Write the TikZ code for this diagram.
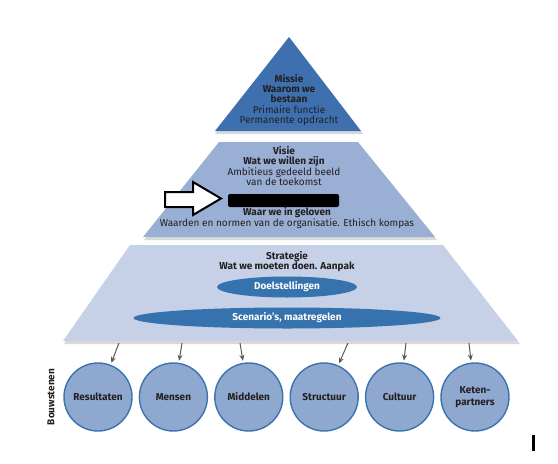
\documentclass[tikz,border=0pt]{standalone}
\usepackage{fontspec}
\setmainfont{Fira Sans}
\definecolor{pyrTop}{HTML}{3E70AF}
\definecolor{pyrMid}{HTML}{9AAFD4}
\definecolor{pyrLow}{HTML}{C6D1E7}
\definecolor{ovalBlue}{HTML}{3572AE}
\definecolor{circFill}{HTML}{8EA8D0}
\definecolor{circDraw}{HTML}{3B73AF}
\definecolor{inkDark}{HTML}{231F20}
\usetikzlibrary{arrows.meta, positioning, shapes.geometric}

\begin{document}
\begin{tikzpicture}[
    x=1pt, y=-1pt,
    node distance=6pt,
    layer/.style={line join=round},
    shade/.style={fill=black!15},
    txt/.style={
      align=center,
      text=inkDark,
      font=\fontsize{10}{10.3}\selectfont,
      inner sep=0pt,
    },
    oval/.style={
      ellipse,
      fill=ovalBlue,
      text=white,
      font=\fontsize{10}{10}\selectfont\bfseries,
      inner sep=0pt,
    },
    block/.style={
      circle,
      draw=circDraw,
      fill=circFill,
      line width=1.4pt,
      minimum size=68pt,
      inner sep=0pt,
      align=center,
      text=inkDark,
      font=\fontsize{10}{12}\selectfont\bfseries,
    },
    arr/.style={-{Stealth[length=6pt, width=5pt]}, black!65, line width=1pt, shorten >=2pt},
  ]
    \useasboundingbox (0,0) rectangle (558,464);

    % shadows
    \fill[shade] (290,38) -- (363,134) -- (215,134) -- cycle;
    \fill[shade] (220,144) -- (359,144) -- (437,240) -- (144,240) -- cycle;
    \fill[shade] (131,247) -- (444,247) -- (520,344) -- (64,344) -- cycle;

    % missie
    \fill[layer, pyrTop] (289,37) -- (361,131) -- (215,131) -- cycle;
    \node[txt] (missie) at (289,100)
      {\textbf{Missie}\\\textbf{Waarom we}\\\textbf{bestaan}\\Primaire functie\\Permanente opdracht};

    % visie
    \fill[layer, pyrMid] (219,142) -- (358,142) -- (435,237) -- (143,237) -- cycle;
    \node[txt] (visie) at (284,166)
      {\textbf{Visie}\\\textbf{Wat we willen zijn}\\Ambitieus gedeeld beeld\\van de toekomst};
    \node[txt] (waarden) at (287,218)
      {\textbf{Waar we in geloven}\\Waarden en normen van de organisatie. Ethisch kompas};

    % pointer + mask
    \draw[line width=2pt, line join=miter, fill=white]
      (165,192) -- (193,192) -- (193,182) -- (221,198.5) -- (193,215) -- (193,207) -- (165,207) -- cycle;
    \node[fill=black, rounded corners=2pt, minimum width=111pt, minimum height=13pt, inner sep=0pt] (mask) at (283.5,200.5) {};

    % strategie
    \fill[layer, pyrLow] (130,245) -- (443,245) -- (518,341) -- (63,341) -- cycle;
    \node[txt] (strategie) at (287,261.5)
      {\textbf{Strategie}\\\textbf{Wat we moeten doen. Aanpak}};
    \node[oval, minimum width=140pt, minimum height=21pt] (doel) at (287,287) {Doelstellingen};
    \node[oval, minimum width=307pt, minimum height=21pt] (scen) at (287,318) {Scenario's, maatregelen};

    % bouwstenen
    \node[block] (c1) at (98,397) {Resultaten};
    \node[block, right=of c1] (c2) {Mensen};
    \node[block, right=of c2] (c3) {Middelen};
    \node[block, right=of c3] (c4) {Structuur};
    \node[block, right=of c4] (c5) {Cultuur};
    \node[block, right=of c5] (c6) {Keten-\\partners};
    \node[rotate=90, txt, font=\fontsize{10}{10}\selectfont\bfseries] (bouw) at (51,397) {Bouwstenen};

    % arrows
    \coordinate (a1) at (119,343);
    \coordinate (a2) at (182,343);
    \coordinate (a3) at (240,343);
    \coordinate (a4) at (348,343);
    \coordinate (a5) at (406,343);
    \coordinate (a6) at (469,343);
    \foreach \i in {1,...,6}
      \draw[arr] (a\i) -- (c\i);

    % bar
    \fill (532,435) rectangle (535,451);
  \end{tikzpicture}
\end{document}
